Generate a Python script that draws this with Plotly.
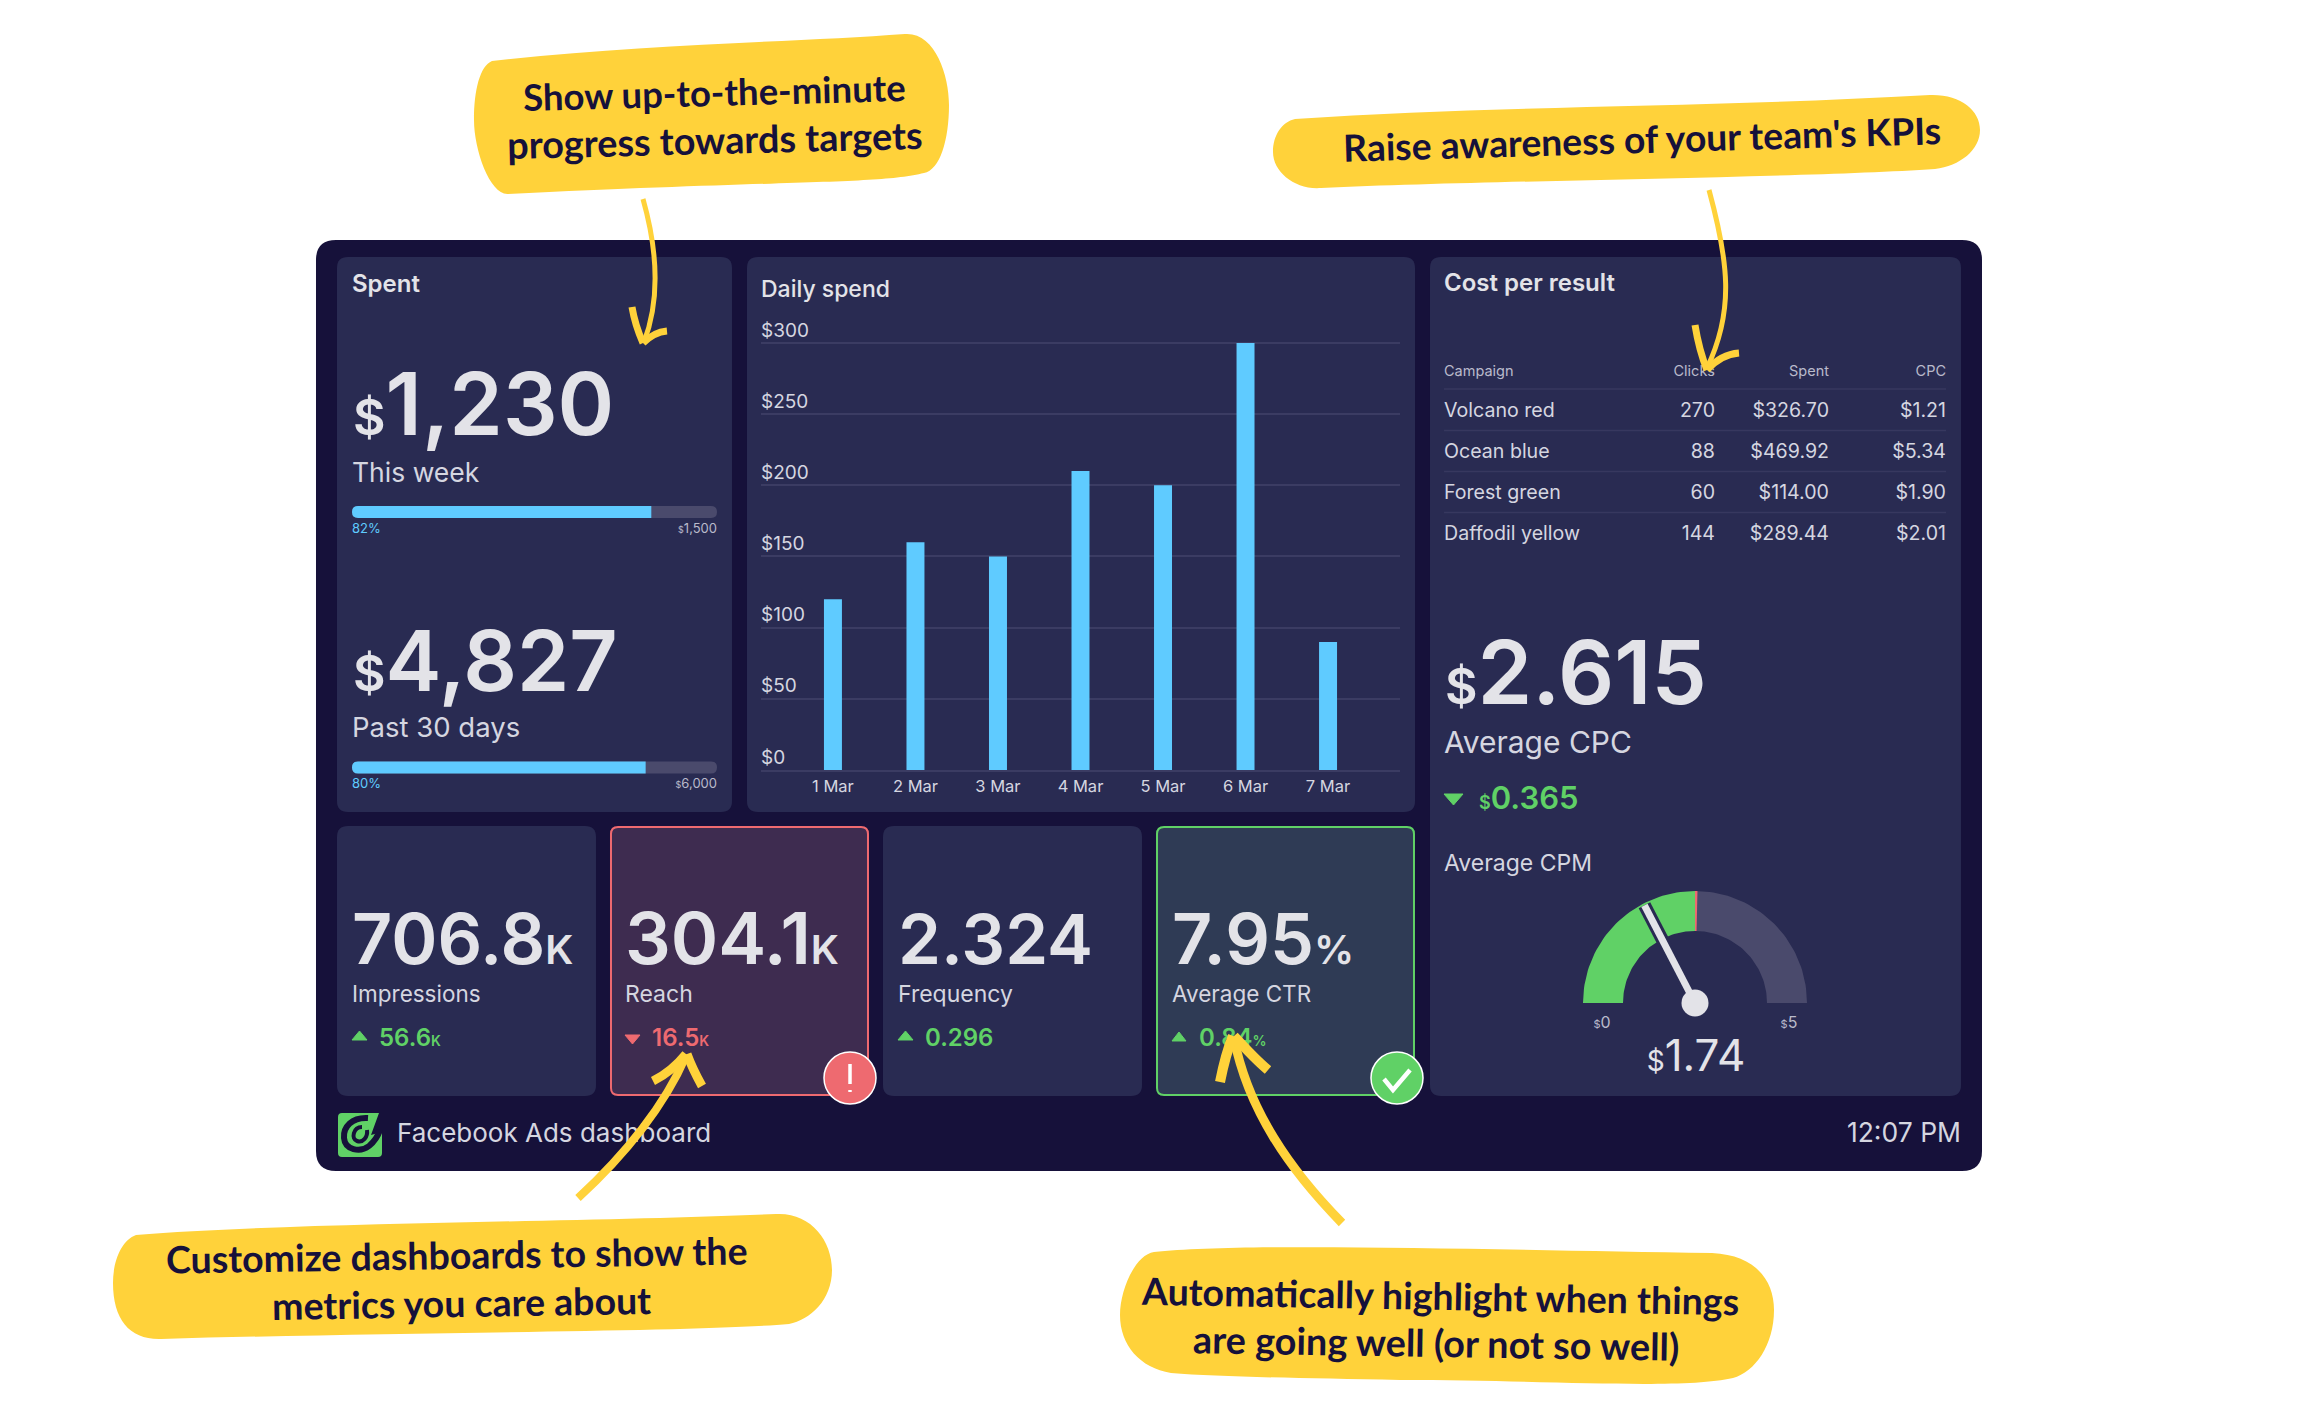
import math
import plotly.graph_objects as go

W, H = 2300, 1410
OFF = 8  # the page body keeps its default margin, so page pixels are offset from figure pixels

# ---- data ----
days = ["1 Mar", "2 Mar", "3 Mar", "4 Mar", "5 Mar", "6 Mar", "7 Mar"]
daily_spend = [120, 160, 150, 210, 200, 300, 90]
y_ticks = [0, 50, 100, 150, 200, 250, 300]
y_labels = ["$0", "$50", "$100", "$150", "$200", "$250", "$300"]
campaigns = ["Volcano red", "Ocean blue", "Forest green", "Daffodil yellow"]
clicks = ["270", "88", "60", "144"]
spent = ["$326.70", "$469.92", "$114.00", "$289.44"]
cpc = ["$1.21", "$5.34", "$1.90", "$2.01"]
table_head = ["Campaign", "Clicks", "Spent", "CPC"]
week_spent, week_target = 1230, 1500
month_spent, month_target = 4827, 6000
gauge_value, gauge_target, gauge_max = 1.74, 2.5, 5

BG = "#16113a"; CARD = "#292b52"; TXT = "#e3e3e8"; SOFT = "#d5d6e0"; DIM = "#b9bacb"
GREEN = "#60d166"; RED = "#ee6a70"; BLUE = "#5fcbff"; TRACK = "#4a4a6c"; YEL = "#ffd23a"; GRID = "#3b3c63"
FONT = "Inter"

def fx(x): return (x - OFF) / W
def fy(y): return 1 - (y - OFF) / H

def P(s):
    out, n = [], 0
    for tok in s.split():
        if tok.isalpha():
            out.append(tok)
        else:
            v = float(tok)
            out.append(f"{fx(v):.5f}" if n % 2 == 0 else f"{fy(v):.5f}")
            n += 1
    return " ".join(out)

shapes = []
def path(s, fill=None, line=None, lw=0, layer="below"):
    shapes.append(dict(type="path", xref="paper", yref="paper", path=P(s), layer=layer,
                       fillcolor=fill or "rgba(0,0,0,0)",
                       line=dict(color=line or "rgba(0,0,0,0)", width=lw)))

def rrect(x0, y0, x1, y1, r, fill, line=None, lw=0, round_right=True):
    rr = r if round_right else 0
    path(f"M {x0+r} {y0} L {x1-rr} {y0} Q {x1} {y0} {x1} {y0+rr} L {x1} {y1-rr} Q {x1} {y1} {x1-rr} {y1} "
         f"L {x0+r} {y1} Q {x0} {y1} {x0} {y1-r} L {x0} {y0+r} Q {x0} {y0} {x0+r} {y0} Z", fill, line, lw)

# panels
rrect(316, 240, 1982, 1171, 20, BG)
rrect(337, 257, 732, 812, 11, CARD)
rrect(747, 257, 1415, 812, 11, CARD)
rrect(1430, 257, 1961, 1096, 11, CARD)
rrect(337, 826, 596, 1096, 11, CARD)
rrect(611, 827, 868, 1095, 7, "#3e2c50", RED, 2)
rrect(883, 826, 1142, 1096, 11, CARD)
rrect(1157, 827, 1414, 1095, 7, "#2f3b55", GREEN, 2)

# progress bars
def progress(y0, y1, value, target):
    x0, x1 = 352, 717
    rrect(x0, y0, x1, y1, 6, TRACK)
    rrect(x0, y0, x0 + (x1 - x0) * value / target, y1, 6, BLUE, round_right=False)
progress(506, 518, week_spent, week_target)
progress(761.5, 773.5, month_spent, month_target)

# table rules
for ry in [389, 430.5, 471.5, 512.5]:
    path(f"M 1444 {ry} L 1946 {ry}", line="#37385f", lw=1.5)

# triangles
def tri(x0, x1, y0, y1, up, col):
    xm = (x0 + x1) / 2
    if up:
        path(f"M {x0} {y1} L {xm} {y0} L {x1} {y1} Z", col, col, 1)
    else:
        path(f"M {x0} {y0} L {x1} {y0} L {xm} {y1} Z", col, col, 1)
tri(352, 367, 1031, 1040, True, GREEN)
tri(625, 640, 1035, 1044, False, RED)
tri(898, 913, 1031, 1040, True, GREEN)
tri(1172, 1186, 1032, 1041, True, GREEN)
tri(1444, 1463, 794, 805, False, GREEN)

# logo
path("M 338 1117 Q 338 1113 342 1113 L 379 1113 L 371 1135 L 382 1132 L 382 1153 Q 382 1157 378 1157 "
     "L 342 1157 Q 338 1157 338 1153 Z", GREEN)
path("M 368 1118 C 352 1117 343 1127 344 1138 C 345 1150 360 1153 369 1146 C 375 1141 378 1136 380 1130", line=BG, lw=6)
path("M 362 1127 C 353 1127 351 1139 357 1141 C 363 1143 368 1137 367 1130", line=BG, lw=4)

# callout blobs
path("M 492 61 C 640 44 800 42 905 34 C 935 32 949 75 949 105 C 949 140 940 170 924 173 "
     "C 880 184 800 180 508 194 C 490 195 474 150 474 120 C 474 90 480 66 492 61 Z", YEL, layer="above")
path("M 1295 119 C 1500 105 1700 108 1930 95 C 1960 94 1980 110 1980 130 C 1980 150 1960 166 1935 169 "
     "C 1800 178 1500 180 1321 188 C 1295 190 1273 172 1273 152 C 1273 135 1282 122 1295 119 Z", YEL, layer="above")
path("M 136 1235 C 300 1222 600 1222 776 1214 C 810 1212 832 1240 832 1270 C 832 1300 810 1320 789 1324 "
     "C 700 1332 400 1332 161 1339 C 130 1340 113 1320 113 1283 C 113 1260 122 1240 136 1235 Z", YEL, layer="above")
path("M 1154 1252 C 1250 1242 1500 1250 1712 1253 C 1755 1255 1774 1280 1774 1310 C 1774 1345 1755 1372 1733 1378 "
     "C 1680 1390 1550 1380 1400 1380 C 1300 1378 1220 1377 1171 1373 C 1140 1368 1120 1345 1120 1315 "
     "C 1120 1290 1135 1255 1154 1252 Z", YEL, layer="above")

# arrows
def arrow(shaft, left, right, w, barb):
    path(shaft, line=YEL, lw=w, layer="above")
    path(left, line=YEL, lw=barb, layer="above")
    path(right, line=YEL, lw=barb, layer="above")
arrow("M 643 199 C 656 245 662 295 644 342", "M 632 307 Q 635 325 643 343", "M 667 331 C 656 332 649 337 643 343", 5, 7)
arrow("M 1709 190 C 1728 260 1735 310 1707 368", "M 1695 325 Q 1699 350 1707 370", "M 1739 353 C 1726 354 1715 361 1707 370", 5, 7)
arrow("M 578 1198 C 625 1155 665 1105 686 1056", "M 653 1081 C 665 1075 678 1064 686 1054", "M 702 1086 C 697 1077 691 1065 687 1054", 8, 9)
arrow("M 1342 1223 C 1290 1170 1248 1110 1234 1038", "M 1220 1082 C 1223 1067 1228 1048 1233 1036", "M 1268 1070 C 1256 1060 1244 1047 1234 1036", 9, 10)

# badges
def badge(cx, col):
    shapes.append(dict(type="circle", xref="paper", yref="paper", layer="above",
                       x0=fx(cx - 26), x1=fx(cx + 26), y0=fy(1078 + 26), y1=fy(1078 - 26),
                       fillcolor=col, line=dict(color="#ffffff", width=1.5)))
badge(850, RED)
badge(1397, GREEN)
path("M 1384 1079 L 1393 1090 L 1410 1070", line="#ffffff", lw=4.5, layer="above")
path("M 850 1064 L 850 1084", line="#ffffff", lw=3.5, layer="above")
path("M 850 1090 L 850 1092", line="#ffffff", lw=3.5, layer="above")

# ---- text ----
tx, ty, tt, ts, tc, tw, tp = [], [], [], [], [], [], []
def T(x, base, text, size, col=TXT, weight=400, align="left"):
    tx.append(x); ty.append(base - 0.26 * size); tt.append(text); ts.append(size); tc.append(col); tw.append(weight)
    tp.append({"left": "middle right", "right": "middle left", "center": "middle center"}[align])
def sp(text, size):
    return f'<span style="font-size:{size}px">{text}</span>'

T(352, 292, "Spent", 24, TXT, 600)
T(761, 297.5, "Daily spend", 23, TXT, 500)
T(1444, 291.5, "Cost per result", 24, TXT, 600)

T(353, 436, sp("$", 50) + "1,230", 86, TXT, 600)
T(352, 482, "This week", 26.5, SOFT)
T(352, 533, "82%", 13, BLUE)
T(717, 533, sp("$", 9) + "1,500", 13, DIM, align="right")
T(353, 692, sp("$", 50) + "4,827", 84, TXT, 600)
T(352, 737, "Past 30 days", 27.5, SOFT)
T(352, 788, "80%", 13, BLUE)
T(717, 788, sp("$", 9) + "6,000", 13, DIM, align="right")

cols_r = [1715, 1829, 1946]
T(1444, 376, table_head[0], 14.5, DIM)
for cx, h in zip(cols_r, table_head[1:]):
    T(cx, 376, h, 14.5, DIM, align="right")
for base, name, a, b, c in zip([417, 458, 499, 540], campaigns, clicks, spent, cpc):
    T(1444, base, name, 19.6, SOFT)
    T(cols_r[0], base, a, 19.6, SOFT, align="right")
    T(cols_r[1], base, b, 19.6, SOFT, align="right")
    T(cols_r[2], base, c, 19.6, SOFT, align="right")

T(1445, 705, sp("$", 50) + "2.615", 88, TXT, 600)
T(1444, 753, "Average CPC", 30, SOFT)
T(1479, 809.5, sp("$", 18) + "0.365", 31, GREEN, 600)
T(1444, 871.5, "Average CPM", 23, SOFT)
T(1602, 1028, sp("$", 11) + "0", 16, DIM, align="center")
T(1789, 1028, sp("$", 11) + "5", 16, DIM, align="center")
T(1696, 1071.5, sp("$", 28) + f"{gauge_value:.2f}", 44, TXT, align="center")

T(352, 965, "706.8" + sp("K", 40), 70, TXT, 600)
T(352, 1002, "Impressions", 22.5, SOFT)
T(379, 1046, "56.6" + sp("K", 14), 24, GREEN, 600)
T(625, 965, "304.1" + sp("K", 40), 72, TXT, 600)
T(625, 1002, "Reach", 23, SOFT)
T(652, 1046, "16.5" + sp("K", 14), 24, RED, 600)
T(898, 965, "2.324", 69, TXT, 600)
T(898, 1002, "Frequency", 23, SOFT)
T(925, 1046, "0.296", 24, GREEN, 600)
T(1172, 965, "7.95" + sp("%", 40), 70, TXT, 600)
T(1172, 1002, "Average CTR", 22.5, SOFT)
T(1199, 1046, "0.84" + sp("%", 14), 24, GREEN, 600)

T(397, 1142, "Facebook Ads dashboard", 26, SOFT)
T(1961, 1142, "12:07 PM", 26.5, SOFT, align="right")

# ---- figure ----
fig = go.Figure()
fig.add_trace(go.Bar(x=days, y=daily_spend, marker=dict(color=BLUE, line=dict(width=0)),
                     width=18 / 82.6, hoverinfo="skip", showlegend=False))

# gauge, on the full-page pixel axes
gx, gy, ro, ri = 1695, 1003, 112, 72
def arc(v0, v1, n=48):
    pts = [(math.pi * (1 - (v0 + (v1 - v0) * i / n) / gauge_max)) for i in range(n + 1)]
    xs = [gx + ro * math.cos(a) for a in pts] + [gx + ri * math.cos(a) for a in reversed(pts)]
    ys = [gy - ro * math.sin(a) for a in pts] + [gy - ri * math.sin(a) for a in reversed(pts)]
    return xs + xs[:1], ys + ys[:1]
for v0, v1, col in [(0, gauge_target, GREEN), (gauge_target, gauge_max, TRACK), (gauge_target, gauge_target + 0.035, RED)]:
    xs, ys = arc(v0, v1)
    fig.add_trace(go.Scatter(x=xs, y=ys, xaxis="x2", yaxis="y2", mode="lines", fill="toself", fillcolor=col,
                             line=dict(width=0, color=col), hoverinfo="skip", showlegend=False))
na = math.pi * (1 - gauge_value / gauge_max)
nx, ny = [gx, gx + 110 * math.cos(na)], [gy, gy - 110 * math.sin(na)]
for col, w in [(CARD, 13), (TXT, 7)]:
    fig.add_trace(go.Scatter(x=nx, y=ny, xaxis="x2", yaxis="y2", mode="lines", line=dict(color=col, width=w),
                             hoverinfo="skip", showlegend=False))
fig.add_trace(go.Scatter(x=[gx], y=[gy], xaxis="x2", yaxis="y2", mode="markers",
                         marker=dict(color=TXT, size=27, line=dict(width=0)), hoverinfo="skip", showlegend=False))

fig.add_trace(go.Scatter(x=tx, y=ty, xaxis="x2", yaxis="y2", mode="text", text=tt, textposition=tp,
                         textfont=dict(family=FONT, size=ts, color=tc, weight=tw),
                         hoverinfo="skip", showlegend=False, cliponaxis=False))

def callout(cx, base, text, size, angle):
    return dict(x=fx(cx), y=fy(base - 0.3 * size), xref="paper", yref="paper", text=text, showarrow=False,
                textangle=angle, xanchor="center", yanchor="middle",
                font=dict(family="Lato", size=size, color=BG, weight=700))

fig.update_layout(
    width=W, height=H, margin=dict(l=0, r=0, t=0, b=0), autosize=False,
    paper_bgcolor="#ffffff", plot_bgcolor="rgba(0,0,0,0)", shapes=shapes, showlegend=False,
    font=dict(family=FONT),
    xaxis=dict(domain=[fx(761), fx(1400)], range=[-0.872, 6.872], type="category", showgrid=False, zeroline=False,
               showline=True, linecolor=GRID, linewidth=1.5, ticks="", tickfont=dict(size=16.5, color=SOFT, family=FONT),
               fixedrange=True, anchor="y"),
    yaxis=dict(domain=[fy(770), fy(307.4)], range=[0, 325], tickvals=y_ticks, ticktext=y_labels, gridcolor=GRID, gridwidth=1.5,
               zeroline=False, showline=False, ticks="", ticklabelposition="inside", ticklabelstandoff=-3,
               tickfont=dict(size=19, color=SOFT, family=FONT), fixedrange=True, anchor="x", ticklabelshift=-13),
    xaxis2=dict(domain=[0, 1], range=[OFF, W + OFF], visible=False, anchor="y2", fixedrange=True),
    yaxis2=dict(domain=[0, 1], range=[H + OFF, OFF], visible=False, anchor="x2", fixedrange=True),
    annotations=[
        callout(714, 103, "Show up-to-the-minute", 36.5, -1.5),
        callout(715, 150.5, "progress towards targets", 37.8, -1.4),
        callout(1642, 150, "Raise awareness of your team's KPIs", 37.3, -1.7),
        callout(457, 1266, "Customize dashboards to show the", 37.5, -0.9),
        callout(461, 1314, "metrics you care about", 37.5, -0.9),
        callout(1440, 1307, "Automatically highlight when things", 37.5, 1.0),
        callout(1436, 1354, "are going well (or not so well)", 37.8, 0.9),
    ],
)
fig.write_html("out.html")
